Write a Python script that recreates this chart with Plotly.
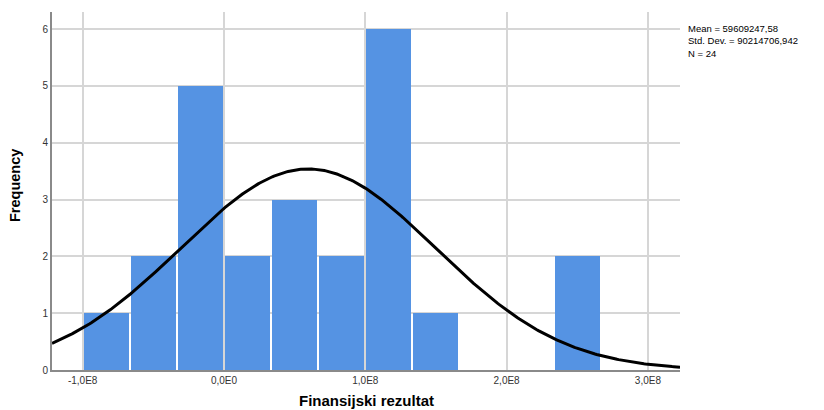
import numpy as np
import plotly.graph_objects as go

# Histogram data (bins of width 1/3 E8)
bin_left = [-1.0e8, -0.6667e8, -0.3333e8, 0.0, 0.3333e8, 0.6667e8,
            1.0e8, 1.3333e8, 1.6667e8, 2.0e8, 2.3333e8]
counts = [1, 2, 5, 2, 3, 2, 6, 1, 0, 0, 2]
bin_width = 0.33333e8

mean = 59609247.58
std = 90214706.942
n = 24

tick_vals = [-1.0e8, 0.0, 1.0e8, 2.0e8, 3.0e8]
tick_text = ["-1,0E8", "0,0E0", "1,0E8", "2,0E8", "3,0E8"]
y_ticks = [0, 1, 2, 3, 4, 5, 6]

x_range = [-1.217e8, 3.227e8]
y_range = [0, 6.3]

centers = [b + bin_width / 2 for b in bin_left]

# page body has an 8px default margin; compensate so plot area is at 52..680 x 12..370
OFF = 8
PL, PR, PT, PB = 52, 680, 12, 370
PW, PH = PR - PL, PB - PT

fig = go.Figure()
fig.add_trace(go.Bar(
    x=centers, y=counts, width=[bin_width * 0.955] * len(counts),
    marker=dict(color="#5593e3", line=dict(width=0)),
    hoverinfo="x+y",
))

xs = np.linspace(x_range[0], x_range[1], 400)
ys = n * bin_width * np.exp(-0.5 * ((xs - mean) / std) ** 2) / (std * np.sqrt(2 * np.pi))
fig.add_trace(go.Scatter(x=xs, y=ys, mode="lines",
                         line=dict(color="black", width=3), hoverinfo="skip"))

fig.update_layout(
    width=824, height=410,
    margin=dict(l=PL - OFF, r=824 - PR + OFF, t=PT - OFF, b=410 - PB + OFF, pad=0),
    paper_bgcolor="white", plot_bgcolor="white",
    showlegend=False,
    font=dict(family="Liberation Sans, Arial, sans-serif", size=10, color="#333333"),
    xaxis=dict(range=x_range, tickvals=tick_vals, ticktext=tick_text,
               showgrid=True, gridcolor="#d6d6d6", gridwidth=1.5,
               zeroline=False, showline=True, linecolor="#8a8a8a", linewidth=2,
               ticks="", ticklen=0, tickfont=dict(size=10, color="#333333")),
    yaxis=dict(range=y_range, tickvals=y_ticks,
               showgrid=True, gridcolor="#d6d6d6", gridwidth=1.5,
               zeroline=False, showline=True, linecolor="#8a8a8a", linewidth=2,
               ticks="", ticklen=0, tickfont=dict(size=10, color="#333333")),
    bargap=0,
)

fig.add_annotation(text="<b>Finansijski rezultat</b>", xref="paper", yref="paper",
                   x=(366 - PL) / PW, y=-(400 - PB) / PH, showarrow=False,
                   font=dict(size=15, color="black"), xanchor="center", yanchor="middle")
fig.add_annotation(text="<b>Frequency</b>", xref="paper", yref="paper",
                   x=-(PL - 15) / PW, y=(PB - 186) / PH, showarrow=False,
                   textangle=-90, font=dict(size=14.5, color="black"),
                   xanchor="center", yanchor="middle")

stats = ["Mean = 59609247,58", "Std. Dev. = 90214706,942", "N = 24"]
fig.add_annotation(text="<br>".join(stats), xref="paper", yref="paper",
                   x=(686 - PL) / PW, y=(PB - 41) / PH, align="left",
                   showarrow=False, xanchor="left", yanchor="middle",
                   font=dict(size=9.5, color="black"))

fig.write_html("out.html")
